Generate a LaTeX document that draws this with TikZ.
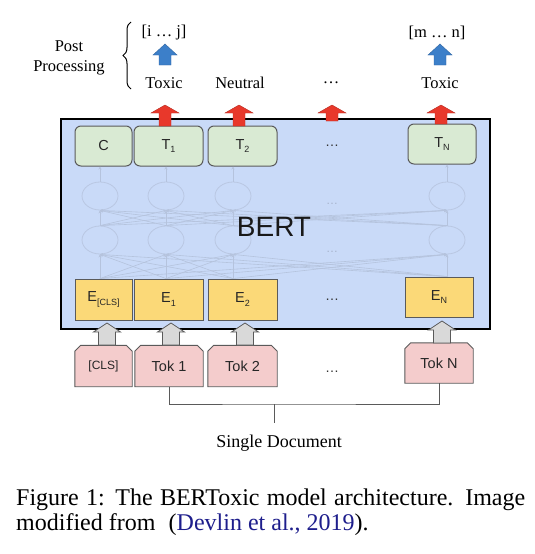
\documentclass[tikz,border=0pt]{standalone}
\usepackage{fontspec}
\setmainfont{Liberation Serif}
\setsansfont{Liberation Sans}
\usetikzlibrary{shapes.geometric,arrows.meta,decorations.pathreplacing,backgrounds}

\definecolor{bertbg}{HTML}{C9DAF8}
\definecolor{tgreen}{HTML}{D9EAD3}
\definecolor{eyellow}{HTML}{FBD978}
\definecolor{tpink}{HTML}{F4CCCC}
\definecolor{boxline}{HTML}{5A5A5A}
\definecolor{redarr}{HTML}{E8382B}
\definecolor{bluearr}{HTML}{3C7FC9}
\definecolor{greyarr}{HTML}{D9D9D9}
\definecolor{netline}{HTML}{B5C3DD}
\definecolor{netnode}{HTML}{B9C7E2}
\definecolor{citeblue}{HTML}{1E1E8C}

\newcommand{\subx}[1]{\raisebox{-0.5ex}{\fontsize{9}{9}\selectfont #1}}
\newcommand{\fatup}[7]{\draw[#1] (#2,#3) -- (#2+#5,#3+#7) -- (#2+#6,#3+#7) -- (#2+#6,#4) -- (#2-#6,#4) -- (#2-#6,#3+#7) -- (#2-#5,#3+#7) -- cycle;}

\begin{document}
\begin{tikzpicture}[x=1pt,y=-1pt,
  sbox/.style={font=\sffamily\fontsize{14.5}{14.5}\selectfont, inner sep=0pt, text=black!85},
  tbox/.style={sbox, draw=boxline, line width=1pt, fill=tgreen, rounded corners=6pt, minimum height=40pt},
  ebox/.style={sbox, draw=boxline, line width=0.9pt, fill=eyellow, minimum height=41pt},
  kbox/.style={sbox, minimum height=41pt},
  kshape/.style={draw=boxline, line width=0.9pt, fill=tpink},
  netell/.style={ellipse, draw=netnode, line width=0.8pt, minimum width=36pt, minimum height=28pt, inner sep=0pt},
  netarrow/.style={draw=netline, line width=0.6pt, -{Stealth[length=3pt,width=3pt]}},
  serifl/.style={font=\fontsize{16.5}{16.5}\selectfont, inner sep=0pt},
  redA/.style={fill=redarr, draw=redarr!80!black, line width=0.4pt},
  blueA/.style={fill=bluearr, draw=bluearr!80!black, line width=0.4pt},
  greyA/.style={fill=greyarr, draw=boxline, line width=0.8pt},
  docline/.style={draw=boxline, line width=1pt},
  dots/.style={font=\sffamily\fontsize{14}{14}\selectfont, text=black!80, inner sep=0pt},
  fdots/.style={font=\sffamily\fontsize{12}{12}\selectfont, text=netnode!90!black, inner sep=0pt}
]
\useasboundingbox (0,0) rectangle (535,554);
\begin{scope}[on background layer]
\fill[white] (0,0) rectangle (535,554);
\end{scope}

% BERT box
\node[draw=black, line width=2.2pt, fill=bertbg, minimum width=429pt, minimum height=210pt, inner sep=0pt] (bertbox) at (275.5,224) {};

% faint network
\foreach \i/\x in {1/100,2/166,3/233,4/447} {
  \node[netell] (u\i) at (\x,196) {};
  \node[netell] (l\i) at (\x,240) {};
}

% top boxes
\node[tbox, minimum width=57pt] (c)  at (103.5,146) {C};
\node[tbox, minimum width=69pt] (t1) at (168.5,146) {T\subx{1}};
\node[tbox, minimum width=69pt] (t2) at (242.5,146) {T\subx{2}};
\node[tbox, minimum width=68pt] (tn) at (442,144) {T\subx{N}};

% embedding boxes
\node[ebox, minimum width=57pt] (e0) at (103.5,299.5) {E\subx{[CLS]}};
\node[ebox, minimum width=69pt] (e1) at (168.5,299.5) {E\subx{1}};
\node[ebox, minimum width=69pt] (e2) at (242.5,299.5) {E\subx{2}};
\node[ebox, minimum width=68pt, minimum height=40pt] (en) at (439,297) {E\subx{N}};

\foreach \j/\e in {1/e0,2/e1,3/e2,4/en} { \coordinate (b\j) at (l\j |- \e.north); }
\foreach \i in {1,...,4} {
  \foreach \j in {1,...,4} {
    \draw[netarrow] (l\j.north) -- (u\i.south);
    \draw[netarrow] (b\j) -- (l\i.south);
  }
}
\foreach \i/\t in {1/c,2/t1,3/t2,4/tn} { \draw[netarrow] (u\i.north) -- (u\i |- \t.south); }

\node[fdots] (fd1) at (332,204) {…};
\node[fdots] (fd2) at (332,252) {…};
\node[dots] (d1) at (332,146) {…};
\node[dots] (d2) at (332,300) {…};

\node[font=\sffamily\fontsize{28}{28}\selectfont, inner sep=0pt, text=black!90] (bertlbl) at (274,227) {BERT};

% tokens
\node[kbox, minimum width=57pt, font=\sffamily\fontsize{12}{12}\selectfont] (k0) at (103.5,366) {[CLS]};
\node[kbox, minimum width=68pt] (k1) at (169,366) {Tok 1};
\node[kbox, minimum width=69pt] (k2) at (242.5,366) {Tok 2};
\node[kbox, minimum width=68pt, minimum height=40pt] (kn) at (439,363) {Tok N};
\node[dots] (d3) at (332,372) {…};
\begin{scope}[on background layer]
\foreach \k in {k0,k1,k2,kn} {
  \draw[kshape] (\k.south west) -- ([yshift=-6pt]\k.north west) -- ([xshift=6pt]\k.north west) -- ([xshift=-6pt]\k.north east) -- ([yshift=-6pt]\k.north east) -- (\k.south east) -- cycle;
}
\end{scope}

% grey input arrows
\fatup{greyA}{107}{323}{345}{13.5}{8.5}{9}
\fatup{greyA}{171}{323}{345}{13.5}{8.5}{9}
\fatup{greyA}{245}{323}{345}{13.5}{8.5}{9}
\fatup{greyA}{442}{321}{343}{13.5}{8.5}{9}

% red output arrows
\fatup{redA}{165}{105}{126}{14}{6}{8}
\fatup{redA}{239}{105}{126}{14}{6}{8}
\fatup{redA}{332}{105}{121}{14}{6}{8}
\fatup{redA}{441}{105}{124}{14}{6}{8}

% labels
\node[serifl] (tox1) at (164,83) {Toxic};
\node[serifl] (neu) at (240,83) {Neutral};
\node[serifl] (dl) at (331,83) {…};
\node[serifl] (tox2) at (440,83) {Toxic};
\node[serifl] (ij) at (164,33) {[i … j]};
\node[serifl] (mn) at (437,33) {[m … n]};
\fatup{blueA}{165}{44}{65}{12}{6}{11}
\fatup{blueA}{440}{44}{65}{12}{6}{11}

\node[font=\fontsize{16.5}{20}\selectfont, align=center, inner sep=0pt] (pp) at (69,58) {Post\\Processing};
\coordinate (brb) at (131,89);
\coordinate (brt) at (131,22);
\draw[decorate, decoration={brace, amplitude=8pt}, line width=1pt] (brb) -- (brt);

% document bracket
\coordinate (brk) at (274,404);
\coordinate (stub) at (274,423);
\draw[docline] (k1.south) |- (brk) -| (kn.south);
\draw[docline] (brk) -- (stub);
\node[font=\fontsize{18}{18}\selectfont, inner sep=0pt] (doc) at (279,443) {Single Document};

% caption
\node[anchor=north west, text width=509pt, align=justify, inner sep=0pt, font=\fontsize{24}{24.5}\selectfont] (cap) at (16,489) {Figure 1: The BERToxic model architecture. Image\linebreak modified from\hspace{0.3em} (\textcolor{citeblue}{Devlin et al., 2019}).};
\end{tikzpicture}
\end{document}
